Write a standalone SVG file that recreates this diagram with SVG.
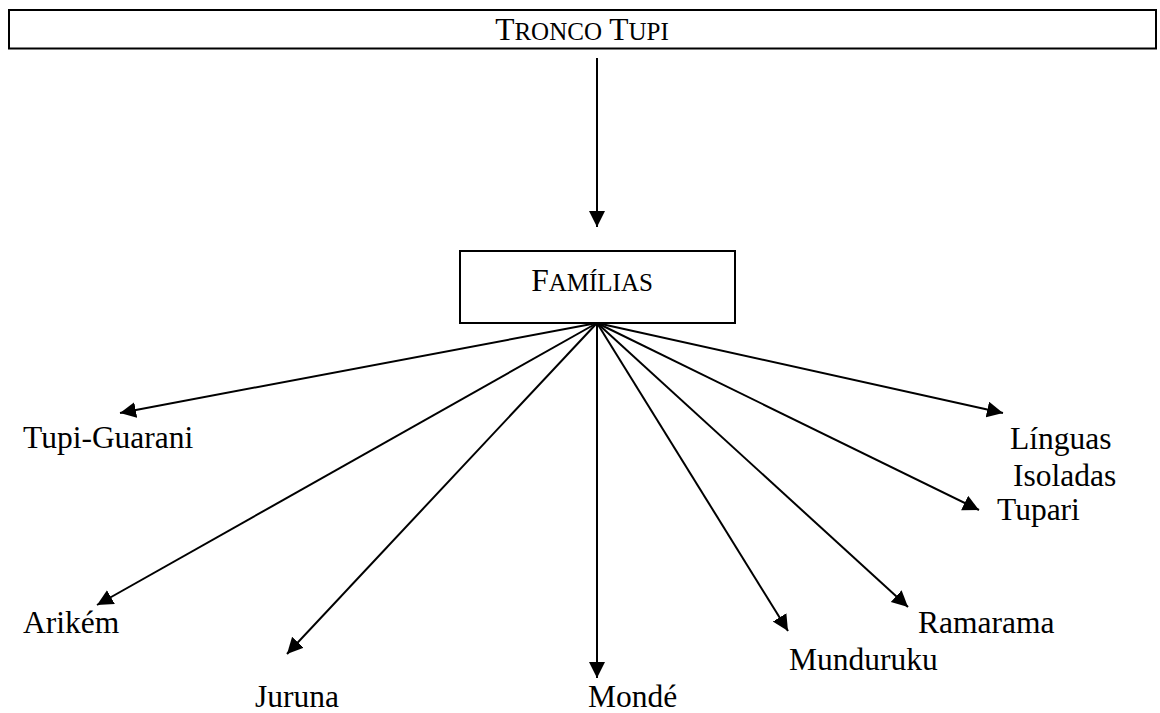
<svg xmlns="http://www.w3.org/2000/svg" width="1160" height="713" viewBox="0 0 1160 713">
  <style>
    .box { fill: #ffffff; stroke: #000000; stroke-width: 2; }
    .edge { stroke: #000000; stroke-width: 2; fill: none; marker-end: url(#head); }
    .lbl { font-family: "Liberation Serif", "Times New Roman", serif; font-size: 31.5px; fill: #000000; }
    .sc { font-size: 25px; }
  </style>
  <defs>
    <marker id="head" markerUnits="userSpaceOnUse" markerWidth="17" markerHeight="17" refX="16" refY="8" orient="auto">
      <path d="M0,0 L16,8 L0,16 Z" fill="#000000"/>
    </marker>
  </defs>
  <rect width="1160" height="713" fill="#ffffff"/>

  <g id="tronco-tupi">
    <rect class="box" x="9" y="10" width="1147" height="38.5"/>
    <text class="lbl" x="582" y="39.5" text-anchor="middle">T<tspan class="sc">RONCO</tspan> T<tspan class="sc">UPI</tspan></text>
  </g>

  <g id="familias">
    <rect class="box" x="460" y="251" width="275" height="72"/>
    <text class="lbl" x="592" y="291" text-anchor="middle">F<tspan class="sc">AMÍLIAS</tspan></text>
  </g>

  <g id="connectors">
    <line class="edge" x1="597" y1="58" x2="597" y2="227"/>
    <line class="edge" x1="597" y1="323" x2="120" y2="413"/>
    <line class="edge" x1="597" y1="323" x2="97" y2="605"/>
    <line class="edge" x1="597" y1="323" x2="287" y2="654"/>
    <line class="edge" x1="597" y1="323" x2="597" y2="678"/>
    <line class="edge" x1="597" y1="323" x2="788" y2="631"/>
    <line class="edge" x1="597" y1="323" x2="908" y2="607"/>
    <line class="edge" x1="597" y1="323" x2="979" y2="510"/>
    <line class="edge" x1="597" y1="323" x2="1003" y2="413"/>
  </g>

  <g id="tupi-guarani"><text class="lbl" x="23" y="448">Tupi-Guarani</text></g>
  <g id="arikem"><text class="lbl" x="23" y="633">Arikém</text></g>
  <g id="juruna"><text class="lbl" x="255" y="707">Juruna</text></g>
  <g id="monde"><text class="lbl" x="588" y="707">Mondé</text></g>
  <g id="munduruku"><text class="lbl" x="789" y="670">Munduruku</text></g>
  <g id="ramarama"><text class="lbl" x="918" y="633">Ramarama</text></g>
  <g id="tupari"><text class="lbl" x="997" y="520">Tupari</text></g>
  <g id="linguas-isoladas">
    <text class="lbl" x="1010" y="449">Línguas</text>
    <text class="lbl" x="1013" y="486">Isoladas</text>
  </g>
</svg>
